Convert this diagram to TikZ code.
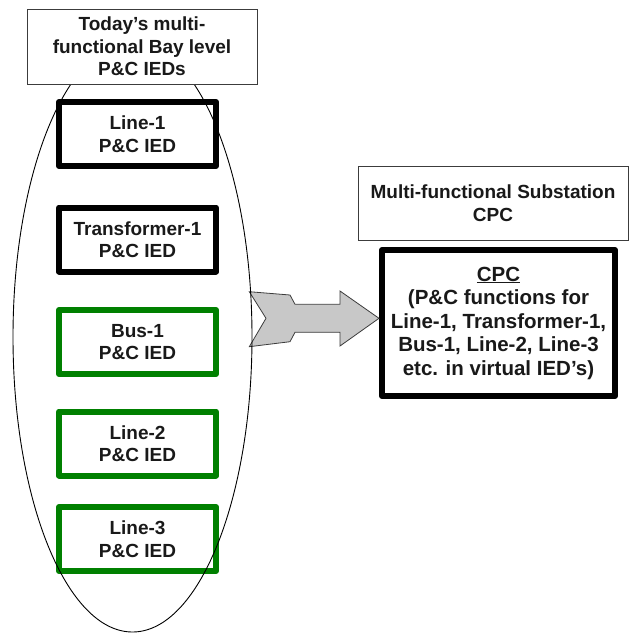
\documentclass[tikz,border=0pt]{standalone}
\usepackage{fontspec}
\setmainfont{Liberation Sans}
\usetikzlibrary{shapes.geometric}
\definecolor{iedgreen}{RGB}{0,128,0}
\definecolor{framegray}{RGB}{60,60,60}
\definecolor{arrowfill}{RGB}{200,200,200}
\begin{document}
\begin{tikzpicture}[x=1pt,y=-1pt,
  lbl/.style={font=\fontsize{19}{22.5}\selectfont\bfseries, align=center, text=black!90},
  iedbox/.style={lbl, draw, line width=6pt, line join=round, inner sep=0pt,
    minimum width=157pt, minimum height=64pt},
  oldied/.style={iedbox, draw=black},
  newied/.style={iedbox, draw=iedgreen},
  titlebox/.style={lbl, draw=framegray, fill=white, line width=1pt, inner sep=0pt},
  cpcbox/.style={draw=black, line width=6pt, line join=round, inner sep=0pt,
    minimum width=233pt, minimum height=146pt,
    font=\fontsize{20.5}{23.5}\selectfont\bfseries, align=center, text=black!90},
  fatarrow/.style={draw=framegray, fill=arrowfill, line width=0.8pt, line join=miter},
  bayring/.style={draw=black, line width=0.9pt, ellipse, inner sep=0pt}
]
\useasboundingbox (0,0) rectangle (629,635);

% bay level IEDs
\node[oldied] (line1) at (137.5,134)   {Line-1\\P\&C IED};
\node[oldied] (tr1)   at (137.5,239.5) {Transformer-1\\P\&C IED};
\node[newied] (bus1)  at (137.5,342)   {Bus-1\\P\&C IED};
\node[newied] (line2) at (137.5,443.5) {Line-2\\P\&C IED};
\node[newied] (line3) at (137.5,539)   {Line-3\\P\&C IED};

% substation computer
\node[cpcbox] (cpc) at (498.5,323)
  {\underline{CPC}\\(P\&C functions for\\Line-1, Transformer-1,\\Bus-1, Line-2, Line-3\\etc. in virtual IED’s)};

% migration arrow
\coordinate (tip) at (cpc.west);
\draw[fatarrow] (249.3,291.7) -- (290,295) -- (295,304.3) -- (340,304.3) -- (340,291)
  -- (tip |- 0,318.3) -- (340,346) -- (340,332.3) -- (295,332.3) -- (290,341.7)
  -- (249.3,346.7) -- (266,318.3) -- cycle;

% grouping of the bay IEDs
\node[bayring, minimum width=239pt, minimum height=590pt] (bay) at (132.5,337) {};

% captions
\node[titlebox, minimum width=230pt, minimum height=75pt] (baytitle) at (142,46.5)
  {Today’s multi-\\functional Bay level\\P\&C IEDs};
\node[titlebox, minimum width=270pt, minimum height=74pt] (cpctitle) at (493,203)
  {Multi-functional Substation\\CPC};
\end{tikzpicture}
\end{document}
